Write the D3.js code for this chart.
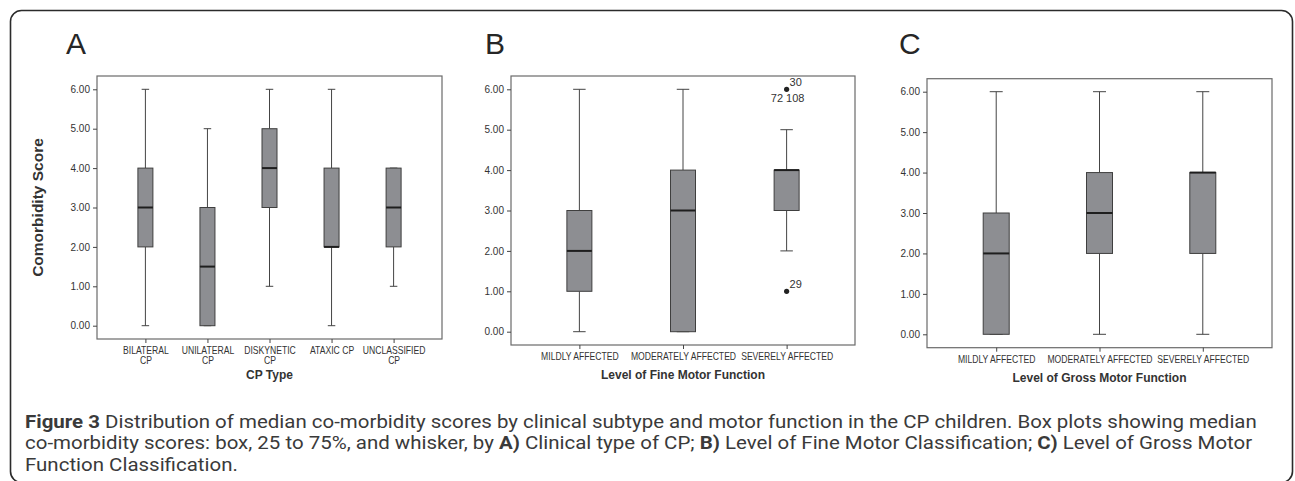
<!DOCTYPE html>
<html>
<head>
<meta charset="utf-8">
<script src="https://cdn.jsdelivr.net/npm/d3@7"></script>
<style>
  html, body { margin: 0; padding: 0; background: #fff; }
  svg { display: block; }
</style>
</head>
<body>
<svg id="chart" width="1295" height="481"></svg>
<script>
// ---------------- DATA ----------------
const yTicks = [0, 1, 2, 3, 4, 5, 6];

// Panel A: CP type
const catsA = ["BILATERAL CP", "UNILATERAL CP", "DISKYNETIC CP", "ATAXIC CP", "UNCLASSIFIED CP"];
const tickLabelsA = [["BILATERAL", "CP"], ["UNILATERAL", "CP"], ["DISKYNETIC", "CP"], ["ATAXIC CP"], ["UNCLASSIFIED", "CP"]];
const minA = [0, 0, 1, 0, 1];
const q1A  = [2, 0, 3, 2, 2];
const medA = [3, 1.5, 4, 2, 3];
const q3A  = [4, 3, 5, 4, 4];
const maxA = [6, 5, 6, 6, 4];

// Panel B: fine motor function
const catsB = ["MILDLY AFFECTED", "MODERATELY AFFECTED", "SEVERELY AFFECTED"];
const minB = [0, 0, 2];
const q1B  = [1, 0, 3];
const medB = [2, 3, 4];
const q3B  = [3, 4, 4];
const maxB = [6, 6, 5];
const outlierCatB = ["SEVERELY AFFECTED", "SEVERELY AFFECTED"];
const outlierValB = [6, 1];
const outlierTopLabelB = ["30", "29"];
const outlierBottomLabelB = ["72 108", ""];

// Panel C: gross motor function
const catsC = ["MILDLY AFFECTED", "MODERATELY AFFECTED", "SEVERELY AFFECTED"];
const minC = [0, 0, 0];
const q1C  = [0, 2, 2];
const medC = [2, 3, 4];
const q3C  = [3, 4, 4];
const maxC = [6, 6, 6];

const panelLetters = ["A", "B", "C"];
const xTitles = ["CP Type", "Level of Fine Motor Function", "Level of Gross Motor Function"];
const yTitle = "Comorbidity Score";

// ---------------- DRAW ----------------
const svg = d3.select("#chart");
const FONT = "'Liberation Sans', Arial, Helvetica, sans-serif";

svg.append("rect").attr("width", 1295).attr("height", 481).attr("fill", "#fff");

// outer rounded frame
svg.append("rect")
  .attr("x", 10.5).attr("y", 10.5)
  .attr("width", 1282).attr("height", 472)
  .attr("rx", 11).attr("ry", 11)
  .attr("fill", "none").attr("stroke", "#2b2b2b").attr("stroke-width", 1.6);

function buildRows(cats, mins, q1s, meds, q3s, maxs) {
  return cats.map((c, i) => ({ cat: c, min: mins[i], q1: q1s[i], med: meds[i], q3: q3s[i], max: maxs[i] }));
}

const panels = [
  { rows: buildRows(catsA, minA, q1A, medA, q3A, maxA), cats: catsA, labels: tickLabelsA,
    x0: 97, x1: 442, y0: 76, y1: 339, yBot: 325.7, yTop: 89.3, pad: 0.78, boxW: 15,
    letterX: 66, titleY: 379, outliers: [] },
  { rows: buildRows(catsB, minB, q1B, medB, q3B, maxB), cats: catsB, labels: catsB.map(d => [d]),
    x0: 511, x1: 855, y0: 76, y1: 345, yBot: 331.7, yTop: 89.3, pad: 0.66, boxW: 25,
    letterX: 485, titleY: 379,
    outliers: outlierCatB.map((c, i) => ({ cat: c, value: outlierValB[i], top: outlierTopLabelB[i], bottom: outlierBottomLabelB[i] })) },
  { rows: buildRows(catsC, minC, q1C, medC, q3C, maxC), cats: catsC, labels: catsC.map(d => [d]),
    x0: 927, x1: 1272, y0: 78.7, y1: 347.7, yBot: 334.3, yTop: 91.7, pad: 0.67, boxW: 26,
    letterX: 899, titleY: 381.5, outliers: [] }
];

panels.forEach((p, pi) => {
  const g = svg.append("g");
  const x = d3.scalePoint().domain(p.cats).range([p.x0, p.x1]).padding(p.pad);
  const y = d3.scaleLinear().domain([0, 6]).range([p.yBot, p.yTop]);

  // panel letter
  g.append("text")
    .attr("x", p.letterX).attr("y", 53.5)
    .attr("font-family", FONT).attr("font-size", 30)
    .attr("fill", "#262626")
    .text(panelLetters[pi]);

  // plot frame
  g.append("rect")
    .attr("x", p.x0).attr("y", p.y0)
    .attr("width", p.x1 - p.x0).attr("height", p.y1 - p.y0)
    .attr("fill", "#fff").attr("stroke", "#6a6a6a").attr("stroke-width", 1.2);

  // y axis
  const yAxis = g.append("g")
    .attr("transform", `translate(${p.x0},0)`)
    .call(d3.axisLeft(y).tickValues(yTicks).tickFormat(d3.format(".2f")).tickSize(4).tickPadding(3));
  yAxis.select(".domain").remove();
  yAxis.selectAll("line").attr("stroke", "#444");
  yAxis.selectAll("text").attr("font-family", FONT).attr("font-size", 10).attr("fill", "#333");

  // x axis
  const xAxis = g.append("g")
    .attr("transform", `translate(0,${p.y1})`)
    .call(d3.axisBottom(x).tickSize(4).tickPadding(3));
  xAxis.select(".domain").remove();
  xAxis.selectAll("line").attr("stroke", "#444");
  xAxis.selectAll("text")
    .attr("font-family", FONT).attr("font-size", 10.5).attr("fill", "#333")
    .attr("y", 0).attr("dy", null)
    .attr("transform", "scale(0.82,1)")
    .each(function(d, i) {
      const t = d3.select(this);
      t.text(null);
      p.labels[i].forEach((line, li) => {
        t.append("tspan").attr("x", 0).attr("y", 15.5 + li * 10).text(line);
      });
    });

  // x title
  g.append("text")
    .attr("x", (p.x0 + p.x1) / 2).attr("y", p.titleY)
    .attr("text-anchor", "middle")
    .attr("font-family", FONT).attr("font-weight", "bold").attr("font-size", 12)
    .attr("fill", "#333")
    .text(xTitles[pi]);

  // boxes
  const bg = g.selectAll("g.box").data(p.rows).join("g").attr("class", "box");
  const half = p.boxW / 2, cap = p.boxW / 4;
  bg.append("line")
    .attr("x1", d => x(d.cat)).attr("x2", d => x(d.cat))
    .attr("y1", d => y(d.max)).attr("y2", d => y(d.q3))
    .attr("stroke", "#444").attr("stroke-width", 1);
  bg.append("line")
    .attr("x1", d => x(d.cat)).attr("x2", d => x(d.cat))
    .attr("y1", d => y(d.q1)).attr("y2", d => y(d.min))
    .attr("stroke", "#444").attr("stroke-width", 1);
  bg.append("line")
    .attr("x1", d => x(d.cat) - cap).attr("x2", d => x(d.cat) + cap)
    .attr("y1", d => y(d.max)).attr("y2", d => y(d.max))
    .attr("stroke", "#444").attr("stroke-width", 1);
  bg.append("line")
    .attr("x1", d => x(d.cat) - cap).attr("x2", d => x(d.cat) + cap)
    .attr("y1", d => y(d.min)).attr("y2", d => y(d.min))
    .attr("stroke", "#444").attr("stroke-width", 1);
  bg.append("rect")
    .attr("x", d => x(d.cat) - half).attr("width", p.boxW)
    .attr("y", d => y(d.q3)).attr("height", d => Math.max(0, y(d.q1) - y(d.q3)))
    .attr("fill", "#8d8e92").attr("stroke", "#3f3f3f").attr("stroke-width", 1);
  bg.append("line")
    .attr("x1", d => x(d.cat) - half).attr("x2", d => x(d.cat) + half)
    .attr("y1", d => y(d.med)).attr("y2", d => y(d.med))
    .attr("stroke", "#1e1e1e").attr("stroke-width", 2);

  // outliers
  const og = g.selectAll("g.out").data(p.outliers).join("g").attr("class", "out");
  og.append("circle")
    .attr("cx", d => x(d.cat)).attr("cy", d => y(d.value)).attr("r", 2.6)
    .attr("fill", "#222");
  og.append("text")
    .attr("x", d => x(d.cat) + 3).attr("y", d => y(d.value) - 3)
    .attr("font-family", FONT).attr("font-size", 11).attr("fill", "#333")
    .text(d => d.top);
  og.append("text")
    .attr("x", d => x(d.cat) + 1).attr("y", d => y(d.value) + 12.5)
    .attr("text-anchor", "middle")
    .attr("font-family", FONT).attr("font-size", 11).attr("fill", "#333")
    .text(d => d.bottom);

  // y title (only first panel)
  if (pi === 0) {
    g.append("text")
      .attr("transform", `translate(43,${(p.y0 + p.y1) / 2}) rotate(-90)`)
      .attr("text-anchor", "middle")
      .attr("font-family", FONT).attr("font-weight", "bold").attr("font-size", 15.5)
      .attr("fill", "#333")
      .text(yTitle);
  }
});

// ---------------- CAPTION ----------------
const captionLines = [
  [["Figure 3", true], [" Distribution of median co-morbidity scores by clinical subtype and motor function in the CP children. Box plots showing median", false]],
  [["co-morbidity scores: box, 25 to 75%, and whisker, by ", false], ["A)", true], [" Clinical type of CP; ", false], ["B)", true], [" Level of Fine Motor Classification; ", false], ["C)", true], [" Level of Gross Motor", false]],
  [["Function Classification.", false]]
];
const capFont = "Roboto, 'Open Sans', sans-serif";
const capG = svg.append("g");
const capTexts = captionLines.map((segs, li) => {
  const t = capG.append("text")
    .attr("x", 0).attr("y", 428 + li * 21.5)
    .attr("font-family", capFont).attr("font-size", 17.5).attr("fill", "#3a3a3a");
  segs.forEach(([s, b]) => t.append("tspan").attr("font-weight", b ? "bold" : "normal").text(s));
  return t;
});
// fit horizontally so the first line spans the reference width
const w0 = capTexts[0].node().getComputedTextLength();
const sx = 1233 / w0;
capTexts.forEach(t => t.attr("transform", `translate(25,0) scale(${sx},1)`));
</script>
</body>
</html>
